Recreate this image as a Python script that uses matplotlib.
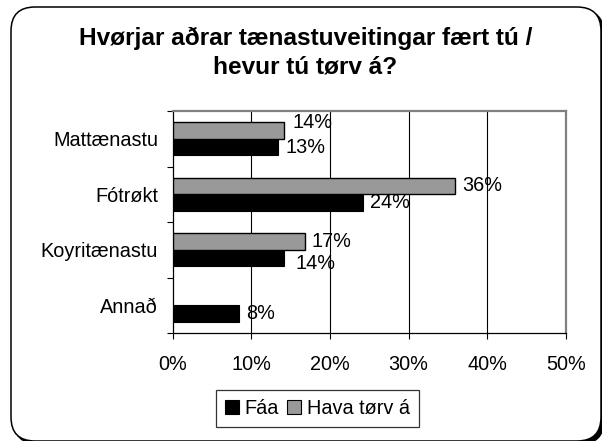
import numpy as np
import matplotlib
matplotlib.use("Agg")
import matplotlib.pyplot as plt
from matplotlib.patches import FancyBboxPatch, Patch

plt.rcParams['font.family'] = ['Liberation Sans', 'DejaVu Sans']

# Data (percent)
categories = ["Mattænastu", "Fótrøkt", "Koyritænastu", "Annað"]
faa = [13.4, 24.2, 14.2, 8.4]
hava_torv = [14.1, 35.9, 16.8, np.nan]
x_ticks = [0, 10, 20, 30, 40, 50]
x_tick_labels = ["0%", "10%", "20%", "30%", "40%", "50%"]
series_names = ["Fáa", "Hava tørv á"]
title = "Hvørjar aðrar tænastuveitingar fært tú /\nhevur tú tørv á?"

BLACK = "#000000"
GREY = "#999999"
FS = 14.3

fig = plt.figure(figsize=(6.02, 4.41), dpi=100)

# Rounded outer frame with a drop shadow, drawn in pixel units
bg = fig.add_axes([0, 0, 1, 1], zorder=-5)
bg.set_xlim(0, 602)
bg.set_ylim(441, 0)
bg.axis("off")
shadow = FancyBboxPatch((14, 10), 590, 434, boxstyle="round,pad=0,rounding_size=24",
                        facecolor=BLACK, edgecolor=BLACK, lw=1.1)
frame = FancyBboxPatch((11, 7), 590, 434, boxstyle="round,pad=0,rounding_size=24",
                       facecolor="white", edgecolor=BLACK, lw=1.1)
bg.add_patch(shadow)
bg.add_patch(frame)

fig.text(0.507, 1 - 27 / 441, title, ha="center", va="top", fontsize=17.6,
         fontweight="bold", linespacing=1.3)

ax = fig.add_axes([172.7 / 602, 1 - 333 / 441, 393 / 602, 222 / 441])
y = np.arange(len(categories))
h = 0.3
ax.barh(y + h / 2, faa, height=h, color=BLACK, edgecolor=BLACK, lw=0.8, zorder=3)
ax.barh(y - h / 2, hava_torv, height=h, color=GREY, edgecolor=BLACK, lw=1.0, zorder=3)

# Value labels; two of them are shifted to keep clear of their neighbours
shift = {(0, 1): (1, 5.4), (2, 0): (3, -4)}
for i in range(len(categories)):
    for s, (vals, yy) in enumerate([(faa, y + h / 2), (hava_torv, y - h / 2)]):
        v = vals[i]
        if v is None or np.isnan(v):
            continue
        dx, dy = shift.get((i, s), (0, 0))
        ax.annotate(f"{v:.0f}%", xy=(v, yy[i]), xytext=(5.2 + dx, dy),
                    textcoords="offset points", ha="left", va="center",
                    fontsize=FS, zorder=5)

ax.set_xlim(0, 50)
ax.set_ylim(len(categories) - 0.5, -0.5)
ax.set_xticks(x_ticks)
ax.set_xticklabels(x_tick_labels, fontsize=FS)
ax.set_yticks(y)
ax.set_yticklabels(categories, fontsize=FS)
ax.set_yticks(np.arange(len(categories) + 1) - 0.5, minor=True)
ax.tick_params(axis="y", which="major", length=0, pad=10.5)
ax.tick_params(axis="y", which="minor", length=4.5, width=0.8, direction="out")
ax.tick_params(axis="x", length=4.5, width=0.8, pad=11)

for xv in x_ticks[1:-1]:
    ax.axvline(xv, color=BLACK, lw=0.8, zorder=1)

ax.spines["left"].set_color(BLACK)
ax.spines["left"].set_linewidth(0.9)
ax.spines["bottom"].set_color(BLACK)
ax.spines["bottom"].set_linewidth(0.9)
for side in ["top", "right"]:
    ax.spines[side].set_color("#808080")
    ax.spines[side].set_linewidth(1.6)

handles = [Patch(facecolor=BLACK, edgecolor=BLACK, lw=0.8),
           Patch(facecolor=GREY, edgecolor=BLACK, lw=0.8)]
leg = fig.legend(handles, series_names, loc="center",
                 bbox_to_anchor=(317.5 / 602, 1 - 408.5 / 441), ncol=2,
                 fontsize=FS, frameon=True, fancybox=False,
                 handlelength=0.7, handleheight=0.7, handletextpad=0.3,
                 columnspacing=0.4, borderpad=0.45, borderaxespad=0)
leg.get_frame().set_edgecolor(BLACK)
leg.get_frame().set_linewidth(0.9)

fig.savefig("out.png", dpi=100)
